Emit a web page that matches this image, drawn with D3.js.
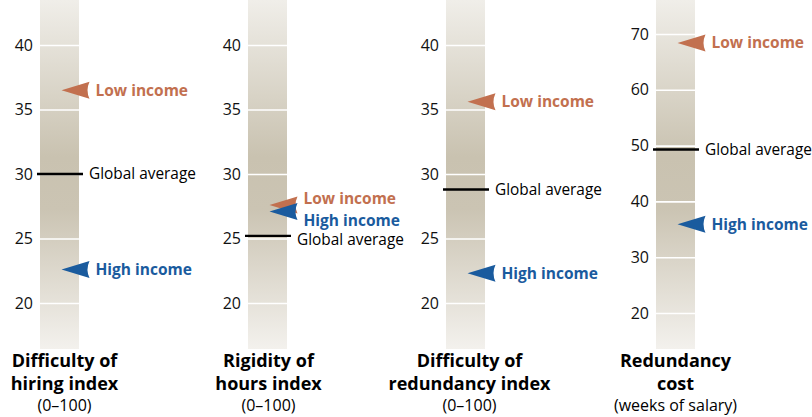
<!DOCTYPE html>
<html>
<head>
<meta charset="utf-8">
<script src="https://cdn.jsdelivr.net/npm/d3@7"></script>
<style>
  body { margin: 0; background: #fff; }
  svg { display: block; font-family: "Open Sans", sans-serif; }
</style>
</head>
<body>
<div id="chart"></div>
<script>
// Data
var titleLines = [
    ["Difficulty of", "hiring index"],
    ["Rigidity of", "hours index"],
    ["Difficulty of", "redundancy index"],
    ["Redundancy", "cost"]
];
var units = ["(0\u2013100)", "(0\u2013100)", "(0\u2013100)", "(weeks of salary)"];
var domains = [[20, 40], [20, 40], [20, 40], [20, 70]];
var tickValues = [
    [20, 25, 30, 35, 40],
    [20, 25, 30, 35, 40],
    [20, 25, 30, 35, 40],
    [20, 30, 40, 50, 60, 70]
];
var globalAverage = [30.0, 25.2, 28.8, 49.3];
var lowIncome = [36.5, 27.6, 35.6, 68.4];
var highIncome = [22.6, 27.1, 22.3, 35.9];

// Layout
var width = 812, height = 417;
var barLeft = [40, 248, 446, 656];
var barWidth = 39;
var titleShift = [5, 1, 4, 0];
// vertical nudges for labels that would overlap (low, high, global)
var labelShift = [[0, 0, 0], [-6, 9, 4], [0, 0, 0], [0, 0, 0]];
var lowColor = "#c2704f";
var highColor = "#1a5b9e";

var svg = d3.select("#chart")
    .append("svg")
    .attr("width", width)
    .attr("height", height);

var defs = svg.append("defs");
var grad = defs.append("linearGradient")
    .attr("id", "barFill")
    .attr("x1", 0).attr("y1", 0).attr("x2", 0).attr("y2", 1);
grad.append("stop").attr("offset", "0%").attr("stop-color", "#f0eee9");
grad.append("stop").attr("offset", "45%").attr("stop-color", "#c9c2b0");
grad.append("stop").attr("offset", "60%").attr("stop-color", "#cbc4b3");
grad.append("stop").attr("offset", "100%").attr("stop-color", "#f3f1ed");

// arrow pointing left, tip at (0,0)
function arrowPath(w, h) {
    return "M0,0 L" + w + "," + (-h / 2) + " Q" + (w - 4) + ",0 " + w + "," + (h / 2) + " Z";
}

titleLines.forEach(function(lines, i) {
    var x0 = barLeft[i];
    var cx = x0 + barWidth / 2;
    var yScale = d3.scaleLinear()
        .domain(domains[i])
        .range(i === 3 ? [313, 34] : [303, 45]);

    var g = svg.append("g");

    // background bar
    g.append("rect")
        .attr("x", x0)
        .attr("y", 0)
        .attr("width", barWidth)
        .attr("height", 349)
        .attr("fill", "url(#barFill)");

    // axis: white gridlines across the bar and tick labels
    var axis = d3.axisLeft(yScale)
        .tickValues(tickValues[i])
        .tickSize(-barWidth)
        .tickPadding(7);

    var ax = g.append("g")
        .attr("transform", "translate(" + x0 + ",0)")
        .call(axis);
    ax.select(".domain").remove();
    ax.selectAll(".tick line")
        .attr("stroke", "#fff")
        .attr("stroke-width", 1.6);
    ax.selectAll(".tick text")
        .attr("font-size", "16px")
        .attr("font-family", "Open Sans, sans-serif")
        .attr("fill", "#111");

    // global average
    var ga = yScale(globalAverage[i]);
    g.append("line")
        .attr("x1", x0 - 3)
        .attr("x2", x0 + barWidth + 4)
        .attr("y1", ga)
        .attr("y2", ga)
        .attr("stroke", "#000")
        .attr("stroke-width", 2.4);
    g.append("text")
        .attr("x", x0 + barWidth + 10)
        .attr("y", ga + labelShift[i][2])
        .attr("dy", "0.35em")
        .attr("font-size", "15.4px")
        .attr("fill", "#000")
        .text("Global average");

    // income arrows
    var groups = [
        { name: "Low income", value: lowIncome[i], color: lowColor, shift: labelShift[i][0] },
        { name: "High income", value: highIncome[i], color: highColor, shift: labelShift[i][1] }
    ];
    groups.forEach(function(d) {
        var y = yScale(d.value);
        g.append("path")
            .attr("d", arrowPath(28, 17))
            .attr("transform", "translate(" + (cx + 2) + "," + y + ")")
            .attr("fill", d.color);
        g.append("text")
            .attr("x", cx + 36)
            .attr("y", y + d.shift)
            .attr("dy", "0.35em")
            .attr("font-size", "15.5px")
            .attr("font-weight", "bold")
            .attr("fill", d.color)
            .text(d.name);
    });

    // titles
    var tx = cx + titleShift[i];
    lines.forEach(function(line, k) {
        g.append("text")
            .attr("x", tx)
            .attr("y", 367 + k * 23)
            .attr("text-anchor", "middle")
            .attr("font-size", "18px")
            .attr("font-weight", "bold")
            .attr("fill", "#000")
            .text(line);
    });
    g.append("text")
        .attr("x", tx)
        .attr("y", 411)
        .attr("text-anchor", "middle")
        .attr("font-size", "16px")
        .attr("fill", "#000")
        .text(units[i]);
});
</script>
</body>
</html>
